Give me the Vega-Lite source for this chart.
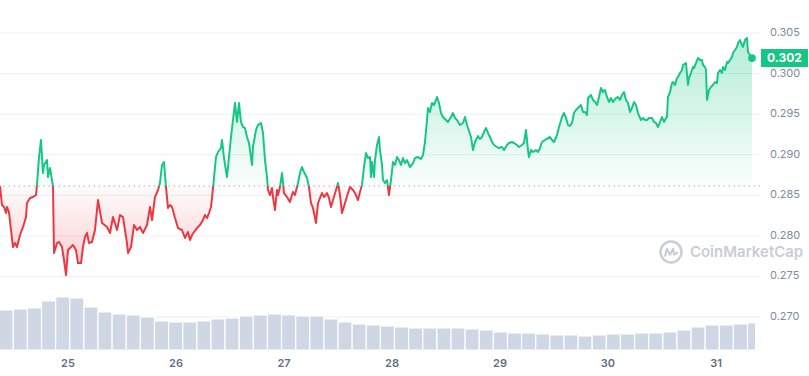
{
  "$schema": "https://vega.github.io/schema/vega-lite/v6.json",
  "width": 760,
  "height": 350,
  "autosize": {"type": "none"},
  "padding": {"left": 0, "top": 0, "right": 49, "bottom": 26},
  "background": "white",
  "config": {"view": {"stroke": null}},
  "datasets": {
    "price": [
      {"h":-15.11,"price":0.28615},{"h":-14.67,"price":0.28381},{"h":-14.22,"price":0.28356},{"h":-13.78,"price":0.28282},{"h":-13.56,"price":0.28356},{"h":-13.11,"price":0.28294},{"h":-12.67,"price":0.28073},{"h":-12.22,"price":0.27863},{"h":-11.78,"price":0.27912},{"h":-11.33,"price":0.27863},{"h":-10.67,"price":0.28011},{"h":-10.0,"price":0.2811},{"h":-9.33,"price":0.28233},{"h":-9.11,"price":0.28405},{"h":-8.44,"price":0.28467},{"h":-7.78,"price":0.28479},{"h":-7.11,"price":0.28504},{"h":-6.89,"price":0.28627},{"h":-6.44,"price":0.28972},{"h":-6.0,"price":0.29182},{"h":-5.56,"price":0.28775},{"h":-5.33,"price":0.28874},{"h":-4.67,"price":0.28935},{"h":-4.44,"price":0.28726},{"h":-4.0,"price":0.28837},{"h":-3.56,"price":0.28689},{"h":-3.33,"price":0.28602},{"h":-3.11,"price":0.27789},{"h":-2.44,"price":0.27912},{"h":-2.0,"price":0.27925},{"h":-1.33,"price":0.27863},{"h":-0.89,"price":0.27703},{"h":-0.44,"price":0.27518},{"h":0.0,"price":0.27826},{"h":0.67,"price":0.27863},{"h":1.11,"price":0.27888},{"h":1.78,"price":0.27826},{"h":2.22,"price":0.27666},{"h":2.89,"price":0.27666},{"h":3.33,"price":0.27863},{"h":3.78,"price":0.27986},{"h":4.22,"price":0.28036},{"h":4.67,"price":0.27912},{"h":5.33,"price":0.27925},{"h":6.0,"price":0.28073},{"h":6.67,"price":0.28442},{"h":7.56,"price":0.28159},{"h":8.67,"price":0.2811},{"h":9.33,"price":0.28036},{"h":10.0,"price":0.28233},{"h":10.89,"price":0.28073},{"h":11.56,"price":0.28257},{"h":12.22,"price":0.28233},{"h":13.11,"price":0.27912},{"h":13.33,"price":0.27789},{"h":14.0,"price":0.27863},{"h":14.67,"price":0.28134},{"h":15.33,"price":0.28073},{"h":16.0,"price":0.2811},{"h":16.67,"price":0.28036},{"h":17.56,"price":0.28134},{"h":18.22,"price":0.28356},{"h":18.67,"price":0.28196},{"h":19.33,"price":0.28479},{"h":20.0,"price":0.28565},{"h":20.44,"price":0.28652},{"h":20.89,"price":0.28874},{"h":21.33,"price":0.2891},{"h":21.78,"price":0.28602},{"h":22.22,"price":0.28344},{"h":22.67,"price":0.28381},{"h":23.11,"price":0.28356},{"h":23.78,"price":0.2822},{"h":24.44,"price":0.28097},{"h":25.33,"price":0.28073},{"h":26.0,"price":0.27974},{"h":26.67,"price":0.28048},{"h":27.11,"price":0.27949},{"h":27.56,"price":0.28011},{"h":28.0,"price":0.28048},{"h":28.67,"price":0.28097},{"h":29.33,"price":0.28134},{"h":30.0,"price":0.28196},{"h":30.44,"price":0.28257},{"h":30.89,"price":0.2822},{"h":31.33,"price":0.28282},{"h":31.78,"price":0.28356},{"h":32.0,"price":0.28467},{"h":32.44,"price":0.28713},{"h":32.89,"price":0.28972},{"h":33.33,"price":0.29034},{"h":34.0,"price":0.29083},{"h":34.22,"price":0.29182},{"h":34.67,"price":0.2896},{"h":35.33,"price":0.28726},{"h":35.78,"price":0.28972},{"h":36.22,"price":0.29219},{"h":36.67,"price":0.29428},{"h":37.11,"price":0.29638},{"h":37.56,"price":0.29404},{"h":38.0,"price":0.29638},{"h":38.44,"price":0.29404},{"h":38.89,"price":0.29342},{"h":39.33,"price":0.2933},{"h":39.78,"price":0.29219},{"h":40.22,"price":0.29145},{"h":40.89,"price":0.28874},{"h":41.11,"price":0.29095},{"h":41.78,"price":0.29305},{"h":42.22,"price":0.29367},{"h":42.89,"price":0.29391},{"h":43.33,"price":0.29268},{"h":43.78,"price":0.28935},{"h":44.22,"price":0.28726},{"h":44.44,"price":0.28565},{"h":44.89,"price":0.28504},{"h":45.33,"price":0.2859},{"h":45.56,"price":0.28479},{"h":46.0,"price":0.28319},{"h":46.44,"price":0.28565},{"h":46.67,"price":0.28504},{"h":47.11,"price":0.28602},{"h":47.56,"price":0.28775},{"h":48.0,"price":0.28528},{"h":48.67,"price":0.28479},{"h":49.33,"price":0.28418},{"h":49.78,"price":0.28504},{"h":50.0,"price":0.28541},{"h":50.44,"price":0.28504},{"h":51.11,"price":0.28652},{"h":51.56,"price":0.28775},{"h":52.0,"price":0.28849},{"h":52.44,"price":0.28787},{"h":53.11,"price":0.28713},{"h":53.56,"price":0.28602},{"h":54.0,"price":0.28405},{"h":54.44,"price":0.28344},{"h":55.11,"price":0.28159},{"h":55.56,"price":0.28405},{"h":56.0,"price":0.28467},{"h":56.44,"price":0.28528},{"h":56.89,"price":0.28479},{"h":57.56,"price":0.28528},{"h":58.0,"price":0.28467},{"h":58.44,"price":0.28356},{"h":58.89,"price":0.28442},{"h":59.56,"price":0.28565},{"h":60.0,"price":0.28652},{"h":60.44,"price":0.28504},{"h":60.89,"price":0.28282},{"h":61.56,"price":0.28405},{"h":62.22,"price":0.28528},{"h":62.67,"price":0.28602},{"h":63.33,"price":0.28565},{"h":63.78,"price":0.28528},{"h":64.44,"price":0.28442},{"h":64.89,"price":0.28541},{"h":65.33,"price":0.28627},{"h":65.78,"price":0.28849},{"h":66.22,"price":0.29021},{"h":66.67,"price":0.2896},{"h":67.11,"price":0.28972},{"h":67.33,"price":0.28726},{"h":67.56,"price":0.2891},{"h":68.0,"price":0.28726},{"h":68.22,"price":0.28935},{"h":68.67,"price":0.2912},{"h":69.11,"price":0.29219},{"h":69.33,"price":0.29058},{"h":69.78,"price":0.28874},{"h":70.0,"price":0.28689},{"h":70.44,"price":0.28652},{"h":70.89,"price":0.28689},{"h":71.33,"price":0.28504},{"h":71.78,"price":0.28689},{"h":72.22,"price":0.2891},{"h":72.67,"price":0.28874},{"h":73.11,"price":0.28972},{"h":73.56,"price":0.28935},{"h":74.0,"price":0.28874},{"h":74.44,"price":0.2896},{"h":74.89,"price":0.28898},{"h":75.33,"price":0.28935},{"h":76.0,"price":0.28849},{"h":76.67,"price":0.28898},{"h":77.11,"price":0.2896},{"h":77.78,"price":0.28972},{"h":78.44,"price":0.28947},{"h":78.89,"price":0.28997},{"h":79.33,"price":0.29157},{"h":79.78,"price":0.29428},{"h":80.0,"price":0.29576},{"h":80.44,"price":0.29527},{"h":80.89,"price":0.29638},{"h":81.33,"price":0.29613},{"h":81.78,"price":0.29675},{"h":82.0,"price":0.29712},{"h":82.44,"price":0.29638},{"h":82.89,"price":0.29514},{"h":83.33,"price":0.29465},{"h":84.0,"price":0.29428},{"h":84.44,"price":0.29404},{"h":85.11,"price":0.29465},{"h":85.56,"price":0.29514},{"h":86.0,"price":0.29453},{"h":86.44,"price":0.29428},{"h":87.11,"price":0.29367},{"h":87.78,"price":0.29391},{"h":88.22,"price":0.29465},{"h":88.67,"price":0.29367},{"h":88.89,"price":0.2933},{"h":89.56,"price":0.29219},{"h":90.0,"price":0.29058},{"h":90.44,"price":0.29157},{"h":91.11,"price":0.29231},{"h":91.56,"price":0.29194},{"h":92.0,"price":0.29219},{"h":92.44,"price":0.2928},{"h":92.89,"price":0.2933},{"h":93.33,"price":0.29268},{"h":93.78,"price":0.29219},{"h":94.22,"price":0.29157},{"h":94.67,"price":0.2912},{"h":95.33,"price":0.29095},{"h":95.78,"price":0.29083},{"h":96.44,"price":0.29095},{"h":96.89,"price":0.29058},{"h":97.56,"price":0.2912},{"h":98.0,"price":0.29145},{"h":98.67,"price":0.29157},{"h":99.11,"price":0.29145},{"h":99.78,"price":0.2912},{"h":100.22,"price":0.29095},{"h":100.89,"price":0.2912},{"h":101.33,"price":0.29145},{"h":101.78,"price":0.29305},{"h":102.22,"price":0.29058},{"h":102.44,"price":0.28972},{"h":102.89,"price":0.29058},{"h":103.33,"price":0.29034},{"h":104.0,"price":0.29058},{"h":104.44,"price":0.29034},{"h":104.89,"price":0.29083},{"h":105.33,"price":0.29157},{"h":106.0,"price":0.29182},{"h":106.67,"price":0.29206},{"h":107.11,"price":0.29219},{"h":107.56,"price":0.29182},{"h":108.0,"price":0.29157},{"h":108.67,"price":0.29243},{"h":109.11,"price":0.29342},{"h":109.78,"price":0.29465},{"h":110.22,"price":0.29514},{"h":110.67,"price":0.29453},{"h":111.11,"price":0.29367},{"h":111.56,"price":0.29354},{"h":112.0,"price":0.29391},{"h":112.44,"price":0.29514},{"h":112.89,"price":0.29551},{"h":113.33,"price":0.29576},{"h":114.0,"price":0.29613},{"h":114.44,"price":0.29527},{"h":114.89,"price":0.29527},{"h":115.33,"price":0.2949},{"h":115.56,"price":0.29699},{"h":116.22,"price":0.29736},{"h":116.67,"price":0.29675},{"h":117.11,"price":0.2965},{"h":117.56,"price":0.29613},{"h":118.0,"price":0.29712},{"h":118.44,"price":0.29822},{"h":118.89,"price":0.29773},{"h":119.33,"price":0.29798},{"h":119.78,"price":0.29712},{"h":120.22,"price":0.2965},{"h":120.67,"price":0.29699},{"h":121.11,"price":0.2965},{"h":121.78,"price":0.29699},{"h":122.22,"price":0.29712},{"h":122.67,"price":0.29675},{"h":123.11,"price":0.29736},{"h":123.56,"price":0.29773},{"h":124.0,"price":0.29675},{"h":124.44,"price":0.29638},{"h":124.89,"price":0.29527},{"h":125.33,"price":0.29576},{"h":125.78,"price":0.2965},{"h":126.22,"price":0.29613},{"h":126.67,"price":0.29514},{"h":127.33,"price":0.29428},{"h":127.78,"price":0.29453},{"h":128.22,"price":0.29428},{"h":128.67,"price":0.29428},{"h":129.11,"price":0.29453},{"h":129.78,"price":0.29453},{"h":130.22,"price":0.29404},{"h":130.67,"price":0.29391},{"h":131.11,"price":0.29342},{"h":131.56,"price":0.29404},{"h":132.0,"price":0.29465},{"h":132.44,"price":0.29404},{"h":132.89,"price":0.29453},{"h":133.11,"price":0.29465},{"h":133.33,"price":0.29712},{"h":133.78,"price":0.29773},{"h":134.22,"price":0.29884},{"h":134.44,"price":0.29896},{"h":134.89,"price":0.2986},{"h":135.33,"price":0.29946},{"h":135.56,"price":0.29958},{"h":136.0,"price":0.30007},{"h":136.44,"price":0.30044},{"h":136.67,"price":0.30106},{"h":137.33,"price":0.30131},{"h":137.78,"price":0.2986},{"h":138.0,"price":0.29946},{"h":138.44,"price":0.30007},{"h":138.89,"price":0.30081},{"h":139.11,"price":0.30069},{"h":139.56,"price":0.30131},{"h":140.0,"price":0.30192},{"h":140.44,"price":0.30168},{"h":140.89,"price":0.30168},{"h":141.11,"price":0.30106},{"h":141.56,"price":0.30081},{"h":141.78,"price":0.30044},{"h":142.0,"price":0.29675},{"h":142.44,"price":0.29798},{"h":142.89,"price":0.29835},{"h":143.33,"price":0.2986},{"h":143.78,"price":0.29896},{"h":144.22,"price":0.29884},{"h":144.44,"price":0.30007},{"h":144.89,"price":0.30044},{"h":145.33,"price":0.30007},{"h":145.56,"price":0.30081},{"h":146.0,"price":0.30044},{"h":146.44,"price":0.30143},{"h":146.67,"price":0.30131},{"h":147.11,"price":0.30168},{"h":147.56,"price":0.30205},{"h":147.78,"price":0.30254},{"h":148.22,"price":0.30291},{"h":148.67,"price":0.30328},{"h":148.89,"price":0.30377},{"h":149.33,"price":0.30414},{"h":149.78,"price":0.30352},{"h":150.0,"price":0.30328},{"h":150.44,"price":0.30414},{"h":150.89,"price":0.30439},{"h":151.11,"price":0.30266},{"h":151.56,"price":0.30229},{"h":152.0,"price":0.30192}
    ],
    "volume": [
      {"t0":-15.29,"t1":-12.16,"vol":80},{"t0":-12.16,"t1":-9.02,"vol":82},{"t0":-9.02,"t1":-5.88,"vol":84},{"t0":-5.88,"t1":-2.74,"vol":98},{"t0":-2.74,"t1":0.4,"vol":106},{"t0":0.4,"t1":3.53,"vol":104},{"t0":3.53,"t1":6.67,"vol":86},{"t0":6.67,"t1":9.81,"vol":76},{"t0":9.81,"t1":12.95,"vol":72},{"t0":12.95,"t1":16.08,"vol":70},{"t0":16.08,"t1":19.22,"vol":66},{"t0":19.22,"t1":22.36,"vol":58},{"t0":22.36,"t1":25.5,"vol":56},{"t0":25.5,"t1":28.64,"vol":56},{"t0":28.64,"t1":31.77,"vol":58},{"t0":31.77,"t1":34.91,"vol":62},{"t0":34.91,"t1":38.05,"vol":64},{"t0":38.05,"t1":41.19,"vol":68},{"t0":41.19,"t1":44.32,"vol":70},{"t0":44.32,"t1":47.46,"vol":72},{"t0":47.46,"t1":50.6,"vol":70},{"t0":50.6,"t1":53.74,"vol":68},{"t0":53.74,"t1":56.88,"vol":68},{"t0":56.88,"t1":60.01,"vol":62},{"t0":60.01,"t1":63.15,"vol":56},{"t0":63.15,"t1":66.29,"vol":52},{"t0":66.29,"t1":69.43,"vol":50},{"t0":69.43,"t1":72.56,"vol":48},{"t0":72.56,"t1":75.7,"vol":46},{"t0":75.7,"t1":78.84,"vol":44},{"t0":78.84,"t1":81.98,"vol":44},{"t0":81.98,"t1":85.12,"vol":44},{"t0":85.12,"t1":88.25,"vol":44},{"t0":88.25,"t1":91.39,"vol":42},{"t0":91.39,"t1":94.53,"vol":40},{"t0":94.53,"t1":97.67,"vol":36},{"t0":97.67,"t1":100.8,"vol":34},{"t0":100.8,"t1":103.94,"vol":34},{"t0":103.94,"t1":107.08,"vol":32},{"t0":107.08,"t1":110.22,"vol":30},{"t0":110.22,"t1":113.36,"vol":30},{"t0":113.36,"t1":116.49,"vol":28},{"t0":116.49,"t1":119.63,"vol":30},{"t0":119.63,"t1":122.77,"vol":32},{"t0":122.77,"t1":125.91,"vol":32},{"t0":125.91,"t1":129.04,"vol":34},{"t0":129.04,"t1":132.18,"vol":34},{"t0":132.18,"t1":135.32,"vol":36},{"t0":135.32,"t1":138.46,"vol":40},{"t0":138.46,"t1":141.6,"vol":46},{"t0":141.6,"t1":144.73,"vol":50},{"t0":144.73,"t1":147.87,"vol":50},{"t0":147.87,"t1":151.01,"vol":52},{"t0":151.01,"t1":152.8,"vol":54}
    ],
    "last": [{"h": 152.0, "price": 0.30192, "label": "0.302"}]
  },
  "layer": [
    {
      "data": {"values": [{"price": 0.27}, {"price": 0.275}, {"price": 0.28}, {"price": 0.285}, {"price": 0.29}, {"price": 0.295}, {"price": 0.3}, {"price": 0.305}]},
      "mark": {"type": "rule", "color": "#eceff3", "strokeWidth": 1},
      "encoding": {
        "y": {"field": "price", "type": "quantitative", "scale": {"domain": [0.26594, 0.30907], "nice": false, "zero": false}, "axis": null}
      }
    },
    {
      "data": {"values": [{"price": 0.27, "label": "0.270"}, {"price": 0.275, "label": "0.275"}, {"price": 0.28, "label": "0.280"}, {"price": 0.285, "label": "0.285"}, {"price": 0.29, "label": "0.290"}, {"price": 0.295, "label": "0.295"}, {"price": 0.3, "label": "0.300"}, {"price": 0.305, "label": "0.305"}]},
      "mark": {"type": "text", "color": "#808a9d", "fontSize": 11, "font": "Inter", "align": "left", "baseline": "middle"},
      "encoding": {
        "x": {"datum": 156.0, "type": "quantitative", "scale": {"domain": [-15.11, 153.78], "nice": false, "zero": false}, "axis": null},
        "y": {"field": "price", "type": "quantitative", "scale": {"domain": [0.26594, 0.30907], "nice": false, "zero": false}, "axis": null},
        "text": {"field": "label", "type": "nominal"}
      }
    },
    {
      "data": {"values": [{"h": 0, "day": "25", "price": 0.26594}, {"h": 24, "day": "26", "price": 0.26594}, {"h": 48, "day": "27", "price": 0.26594}, {"h": 72, "day": "28", "price": 0.26594}, {"h": 96, "day": "29", "price": 0.26594}, {"h": 120, "day": "30", "price": 0.26594}, {"h": 144, "day": "31", "price": 0.26594}]},
      "mark": {"type": "text", "color": "#616e85", "fontSize": 11, "fontWeight": 600, "font": "Inter", "align": "center", "baseline": "top", "dy": 8},
      "encoding": {
        "x": {"field": "h", "type": "quantitative", "scale": {"domain": [-15.11, 153.78], "nice": false, "zero": false}, "axis": null},
        "y": {"field": "price", "type": "quantitative", "scale": {"domain": [0.26594, 0.30907], "nice": false, "zero": false}, "axis": null},
        "text": {"field": "day", "type": "nominal"}
      }
    },
    {
      "data": {"name": "volume"},
      "mark": {"type": "rect", "color": "#cfd6e4", "stroke": "white", "strokeWidth": 1.2},
      "encoding": {
        "x": {"field": "t0", "type": "quantitative", "scale": {"domain": [-15.11, 153.78], "nice": false, "zero": false}, "axis": null},
        "x2": {"field": "t1"},
        "y": {"field": "vol", "type": "quantitative", "scale": {"domain": [0, 700], "nice": false}, "axis": null},
        "y2": {"datum": 0}
      }
    },
    {
      "data": {"name": "price"},
      "mark": {
        "type": "area",
        "fill": {"gradient": "linear", "x1": 0, "y1": 0, "x2": 0, "y2": 1, "stops": [
          {"offset": 0, "color": "rgba(22,199,132,0.32)"},
          {"offset": 0.6244, "color": "rgba(22,199,132,0.02)"},
          {"offset": 0.6245, "color": "rgba(234,57,67,0.02)"},
          {"offset": 1, "color": "rgba(234,57,67,0.26)"}
        ]}
      },
      "encoding": {
        "x": {"field": "h", "type": "quantitative", "scale": {"domain": [-15.11, 153.78], "nice": false, "zero": false}, "axis": null},
        "y": {"field": "price", "type": "quantitative", "scale": {"domain": [0.26594, 0.30907], "nice": false, "zero": false}, "axis": null},
        "y2": {"datum": 0.28615}
      }
    },
    {
      "data": {"values": [{"price": 0.28615}]},
      "mark": {"type": "rule", "color": "#a6b0c3", "strokeWidth": 1, "strokeDash": [1.5, 3.5]},
      "encoding": {
        "y": {"field": "price", "type": "quantitative", "scale": {"domain": [0.26594, 0.30907], "nice": false, "zero": false}, "axis": null}
      }
    },
    {
      "data": {"name": "price"},
      "mark": {
        "type": "line",
        "strokeWidth": 2,
        "strokeJoin": "round",
        "stroke": {"gradient": "linear", "x1": 0, "y1": 0, "x2": 0, "y2": 1, "stops": [
          {"offset": 0, "color": "#16c784"},
          {"offset": 0.6244, "color": "#16c784"},
          {"offset": 0.6245, "color": "#ea3943"},
          {"offset": 1, "color": "#ea3943"}
        ]}
      },
      "encoding": {
        "x": {"field": "h", "type": "quantitative", "scale": {"domain": [-15.11, 153.78], "nice": false, "zero": false}, "axis": null},
        "y": {"field": "price", "type": "quantitative", "scale": {"domain": [0.26594, 0.30907], "nice": false, "zero": false}, "axis": null}
      }
    },
    {
      "data": {"name": "last"},
      "mark": {"type": "point", "shape": "circle", "filled": true, "size": 60, "color": "#16c784", "opacity": 1},
      "encoding": {
        "x": {"field": "h", "type": "quantitative", "scale": {"domain": [-15.11, 153.78], "nice": false, "zero": false}, "axis": null},
        "y": {"field": "price", "type": "quantitative", "scale": {"domain": [0.26594, 0.30907], "nice": false, "zero": false}, "axis": null}
      }
    },
    {
      "data": {"name": "last"},
      "mark": {"type": "point", "shape": "M-1,-0.383L1,-0.383L1,0.383L-1,0.383Z", "filled": true, "size": 2209, "color": "#16c784", "opacity": 1},
      "encoding": {
        "x": {"datum": 159.22, "type": "quantitative", "scale": {"domain": [-15.11, 153.78], "nice": false, "zero": false}, "axis": null},
        "y": {"field": "price", "type": "quantitative", "scale": {"domain": [0.26594, 0.30907], "nice": false, "zero": false}, "axis": null}
      }
    },
    {
      "data": {"name": "last"},
      "mark": {"type": "text", "color": "white", "fontWeight": "bold", "fontSize": 12, "font": "Inter", "align": "center", "baseline": "middle"},
      "encoding": {
        "x": {"datum": 159.22, "type": "quantitative", "scale": {"domain": [-15.11, 153.78], "nice": false, "zero": false}, "axis": null},
        "y": {"field": "price", "type": "quantitative", "scale": {"domain": [0.26594, 0.30907], "nice": false, "zero": false}, "axis": null},
        "text": {"field": "label", "type": "nominal"}
      }
    },
    {
      "data": {"values": [{"name": "CoinMarketCap", "h": 138.2, "price": 0.27801}]},
      "mark": {"type": "text", "color": "#c9ced6", "fontWeight": 600, "fontSize": 15, "font": "Inter", "align": "left", "baseline": "middle"},
      "encoding": {
        "x": {"field": "h", "type": "quantitative", "scale": {"domain": [-15.11, 153.78], "nice": false, "zero": false}, "axis": null},
        "y": {"field": "price", "type": "quantitative", "scale": {"domain": [0.26594, 0.30907], "nice": false, "zero": false}, "axis": null},
        "text": {"field": "name", "type": "nominal"}
      }
    },
    {
      "data": {"values": [{"h": 134.0, "price": 0.27801}]},
      "mark": {"type": "point", "shape": "circle", "filled": false, "size": 440, "stroke": "#c9ced6", "strokeWidth": 2.5, "opacity": 1},
      "encoding": {
        "x": {"field": "h", "type": "quantitative", "scale": {"domain": [-15.11, 153.78], "nice": false, "zero": false}, "axis": null},
        "y": {"field": "price", "type": "quantitative", "scale": {"domain": [0.26594, 0.30907], "nice": false, "zero": false}, "axis": null}
      }
    },
    {
      "data": {"values": [{"h": 134.0, "price": 0.27801}]},
      "mark": {"type": "point", "shape": "M-0.55,0.35L-0.4,-0.3L-0.1,0.25L0.2,-0.3L0.3,0.25L0.6,0.05", "filled": false, "size": 440, "stroke": "#c9ced6", "strokeWidth": 2.2, "strokeJoin": "round", "strokeCap": "round", "opacity": 1},
      "encoding": {
        "x": {"field": "h", "type": "quantitative", "scale": {"domain": [-15.11, 153.78], "nice": false, "zero": false}, "axis": null},
        "y": {"field": "price", "type": "quantitative", "scale": {"domain": [0.26594, 0.30907], "nice": false, "zero": false}, "axis": null}
      }
    }
  ],
  "resolve": {"scale": {"y": "independent"}}
}
